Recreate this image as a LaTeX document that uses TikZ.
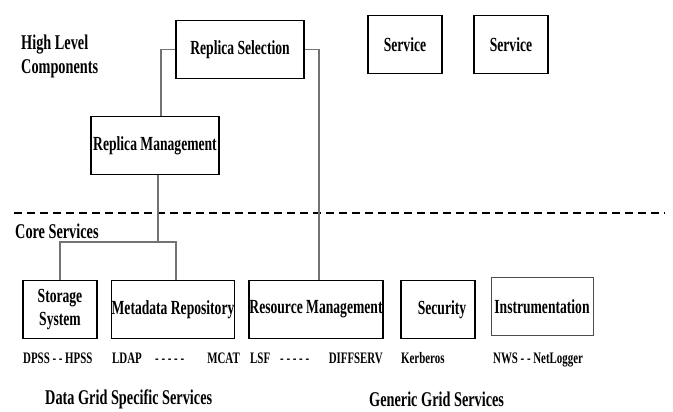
\documentclass[tikz,border=0pt]{standalone}
\usepackage{fontspec}
\setmainfont{Liberation Serif}[FakeStretch=0.68]
\begin{document}
\begin{tikzpicture}[x=1pt,y=-1pt,
  box/.style={draw=black,line width=1.5pt,minimum width=#1,minimum height=58pt,inner sep=0pt,
    font=\fontsize{20}{23}\selectfont\bfseries,align=center},
  lbl/.style={inner sep=0pt,font=\fontsize{16}{18}\selectfont\bfseries},
  ttl/.style={inner sep=0pt,font=\fontsize{21}{24}\selectfont\bfseries,align=left},
  wire/.style={draw=black!55,line width=1.1pt}]
\useasboundingbox (0,0) rectangle (673,412);
\node[box=128pt] (sel) at (240,49.5) {Replica Selection};
\node[box=128pt] (mgmt) at (155,145.5) {Replica Management};
\node[box=74pt] (svcA) at (405,44.5) {Service};
\node[box=74pt] (svcB) at (511,44.5) {Service};
\node[box=74pt] (stor) at (60,309.5) {Storage\\System};
\node[box=122pt] (meta) at (173,309.5) {Metadata Repository};
\node[box=134pt] (res) at (316,309.5) {Resource Management};
\node[box=74pt] (sec) at (438,309.5) {\hspace*{8pt}Security};
\node[box=102pt,line width=1pt,draw=black!70] (inst) at (542,306.5) {Instrumentation};
\node[ttl,anchor=north west] (hlc) at (21,35) {High Level\\Components};
\node[ttl,anchor=base west] (core) at (15,238) {Core Services};
\node[ttl,anchor=base west] (dgs) at (45,404) {Data Grid Specific Services};
\node[ttl,anchor=base west] (ggs) at (369,406) {Generic Grid Services};
\node[lbl,anchor=base west] (dpss) at (23,363) {DPSS - - HPSS};
\node[lbl,anchor=base west] (ldap) at (112,363) {LDAP};
\node[lbl,anchor=base west] (dotsA) at (155,363) {- - - - -};
\node[lbl,anchor=base east] (mcat) at (240,363) {MCAT};
\node[lbl,anchor=base west] (lsf) at (250,363) {LSF};
\node[lbl,anchor=base west] (dotsB) at (280,363) {- - - - -};
\node[lbl,anchor=base east] (diff) at (383,363) {DIFFSERV};
\node[lbl,anchor=base west] (kerb) at (401,363) {Kerberos};
\node[lbl,anchor=base west] (nws) at (493,363) {NWS - - NetLogger};
\coordinate (dl) at (14,213);
\coordinate (dr) at (665,213);
\draw[line width=1.8pt,dash pattern=on 8pt off 5pt] (dl) -- (dr);
\draw[wire] (sel.west) -| ([xshift=6pt]mgmt.north);
\draw[wire] (sel.east) -| ([xshift=3pt]res.north);
\coordinate (split) at (158,242);
\draw[wire] ([xshift=3pt]mgmt.south) -- (split);
\draw[wire] (stor.north) |- (split) -| ([xshift=3pt]meta.north);
\end{tikzpicture}
\end{document}
